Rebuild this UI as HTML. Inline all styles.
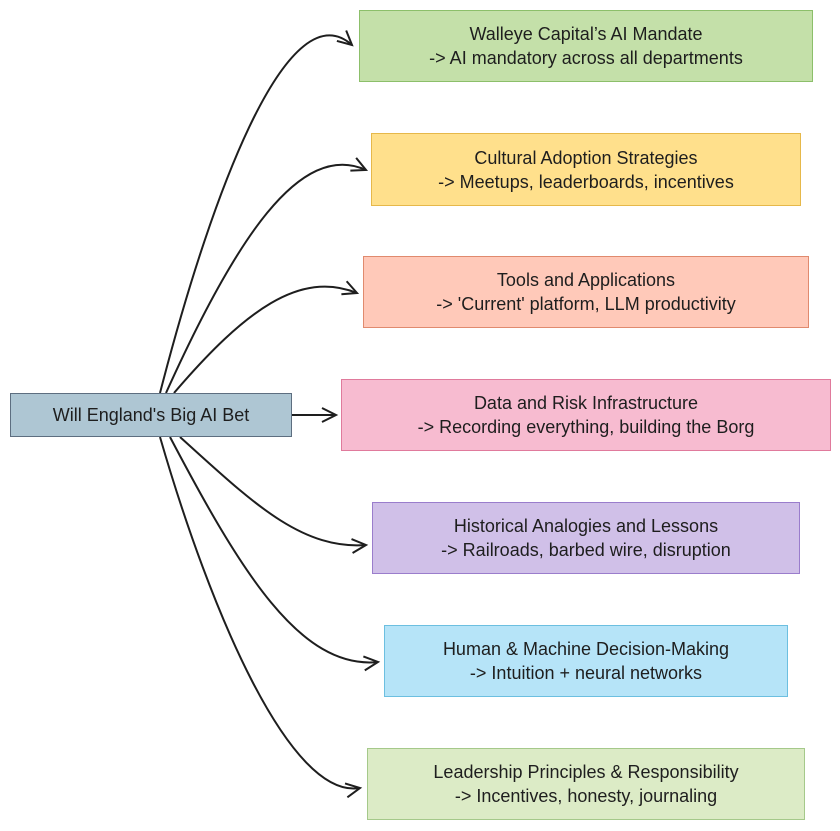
<!DOCTYPE html>
<html><head><meta charset="utf-8"><style>
body{margin:0;width:840px;height:831px;background:#fff;overflow:hidden;position:relative;font-family:"Liberation Sans",sans-serif;}
.b{position:absolute;box-sizing:border-box;border:1.5px solid;display:flex;flex-direction:column;justify-content:center;align-items:center;font-size:18px;line-height:24px;color:#1e1e1e;text-align:center;white-space:nowrap;}
svg{position:absolute;left:0;top:0}
</style></head><body>
<svg width="840" height="831" viewBox="0 0 840 831">
<defs><marker id="a" markerWidth="20" markerHeight="20" refX="16" refY="8" orient="auto" markerUnits="userSpaceOnUse"><path d="M2,1 L16,8 L2,15" fill="none" stroke="#1e1e1e" stroke-width="2"/></marker></defs>
<g fill="none" stroke="#1e1e1e" stroke-width="2" marker-end="url(#a)">
<path d="M160,393 C 215,180 290,-10 352,45"/>
<path d="M166,393 C 235,240 300,140 366,170"/>
<path d="M174,393 C 245,310 300,270 357,293"/>
<path d="M292,415 L 336,415"/>
<path d="M180,437 C 250,500 300,550 366,545"/>
<path d="M170,437 C 240,570 300,670 378,662"/>
<path d="M160,437 C 210,610 290,800 360,788"/>
</g></svg>
<div class="b" style="left:10px;top:393px;width:282px;height:44px;background:#aec6d3;border-color:#5d6e80">Will England's Big AI Bet</div>
<div class="b" style="left:359px;top:10px;width:454px;height:72px;background:#c4e0a9;border-color:#8cbf6a">Walleye Capital’s AI Mandate<br>-&gt; AI mandatory across all departments</div>
<div class="b" style="left:371px;top:133px;width:430px;height:73px;background:#ffe08c;border-color:#e6b84a">Cultural Adoption Strategies<br>-&gt; Meetups, leaderboards, incentives</div>
<div class="b" style="left:363px;top:256px;width:446px;height:72px;background:#ffc9b9;border-color:#e08a6e">Tools and Applications<br>-&gt; 'Current' platform, LLM productivity</div>
<div class="b" style="left:341px;top:379px;width:490px;height:72px;background:#f7bbd0;border-color:#e07a9c">Data and Risk Infrastructure<br>-&gt; Recording everything, building the Borg</div>
<div class="b" style="left:372px;top:502px;width:428px;height:72px;background:#d0c0e8;border-color:#9a7dcc">Historical Analogies and Lessons<br>-&gt; Railroads, barbed wire, disruption</div>
<div class="b" style="left:384px;top:625px;width:404px;height:72px;background:#b6e4f8;border-color:#6cbfe0">Human &amp; Machine Decision-Making<br>-&gt; Intuition + neural networks</div>
<div class="b" style="left:367px;top:748px;width:438px;height:72px;background:#dcebc6;border-color:#a5c98a">Leadership Principles &amp; Responsibility<br>-&gt; Incentives, honesty, journaling</div>
</body></html>
